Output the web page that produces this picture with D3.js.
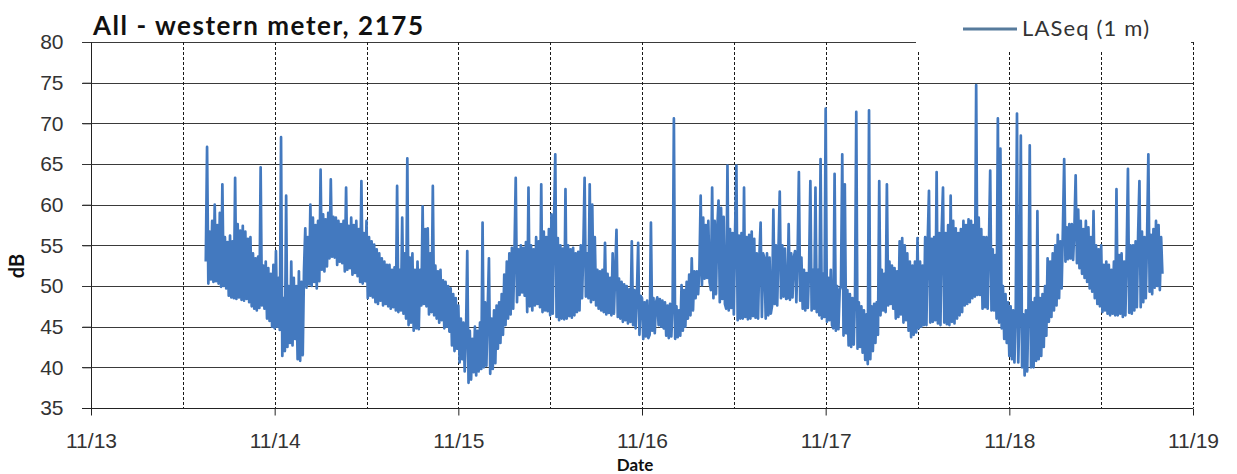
<!DOCTYPE html>
<html>
<head>
<meta charset="utf-8">
<script src="https://cdn.jsdelivr.net/npm/d3@7"></script>
<style>
  html, body { margin: 0; padding: 0; background: #fff; }
  svg { display: block; font-family: Lato, "Open Sans", sans-serif; }
</style>
</head>
<body>
<svg id="chart" width="1237" height="474"></svg>
<script>
// LASeq readings (dB), one every 10 minutes starting 11/13 15:00 (six per hour)
const readStart = new Date(2000, 10, 13, 15, 0);
const stepMinutes = 10;
const laseq = [
  53, 67.1, 50.3, 56.7, 50.8, 58,     50.5, 60, 50.6, 57.5, 50.3, 59,
  49.9, 62.5, 50, 56, 49.7, 55.4,     48.8, 56.2, 48.6, 55.5, 48.5, 63.3,
  48.4, 57.6, 48.6, 56.8, 48.3, 57.4, 48.2, 56.7, 48.4, 55.8, 48, 56,
  47.5, 54, 47.2, 53.4, 47, 53.6,     47.3, 64.6, 47.6, 52.5, 47.2, 53,
  46, 52.2, 45.7, 51.5, 45, 52.6,     44.8, 54.3, 45, 51, 44.6, 68.3,
  41.4, 48.5, 42, 61.1, 42.5, 50,     43, 53, 42.7, 51, 43.5, 50,
  41, 51.8, 40.8, 50.5, 41.5, 52,     57.1, 49.8, 56, 50.2, 60, 50,
  58.4, 50.5, 57.5, 49.7, 58, 50.6,   64.3, 52, 58.8, 51.8, 58.2, 52.4,
  59, 53.4, 63.1, 53.6, 58.5, 53.5,   58.4, 52.6, 58, 53, 57.6, 52.8,
  58, 51.8, 62.1, 52, 57.4, 52.2,     58.4, 51.4, 57.5, 51.6, 58, 51.2,
  57, 50.5, 62.9, 50.3, 56.5, 50.6,   58, 48.5, 56, 48.8, 55.5, 48.6,
  55.1, 48, 54.5, 47.8, 54, 48.2,     53.4, 47.6, 53, 47.8, 52.6, 47.5,
  52.6, 47.2, 52, 47.4, 52.3, 47,     62.3, 46.8, 52, 47, 58.4, 46.6,
  54, 46, 65.7, 45.2, 53.5, 45.5,     54, 44.5, 52, 44.8, 53, 44.7,
  52, 47.6, 59.8, 47.8, 57, 47.5,     57.1, 46.5, 54, 46.8, 62.3, 46.4,
  52.5, 46, 51.8, 45.5, 52, 45.8,     50.7, 44.8, 50.5, 45, 50, 44.4,
  49.7, 42.7, 49, 42, 48.5, 42.3,     47.6, 40.6, 46, 41, 45.5, 39.5,
  44, 54.3, 38.1, 44.5, 38.5, 43.5,   39.4, 45, 39, 44.5, 39.5, 45.5,
  39.8, 57.8, 40, 48, 40.2, 47,       53.4, 39.2, 46, 39.8, 47, 40.5,
  47.6, 42.3, 48, 43, 49, 44,         51.4, 45.2, 53, 46, 54, 46.5,
  54.7, 47.2, 54, 63.3, 48, 54.5,     48.9, 55, 49.2, 54.7, 48.8, 55.4,
  46.8, 62.1, 47.5, 55, 47, 54.5,     47.6, 56, 47.8, 55.5, 47.4, 62.5,
  46.8, 56.7, 47, 56, 46.9, 57,       46.4, 58.8, 46.6, 57.5, 66.2, 46.2,
  55.9, 45.8, 55, 46, 54.6, 45.9,     61.9, 46, 55, 46.3, 54.5, 46.1,
  54.7, 46.4, 54, 46.8, 54.2, 47,     55, 48.5, 54.6, 63.3, 48.7, 54,
  48.5, 62.5, 48, 60, 48.3, 56,       47.6, 52, 47.2, 51.8, 47, 52,
  46.8, 55.3, 46.5, 51.5, 46.7, 51,   46.4, 54, 46.6, 51.8, 56.9, 46.2,
  50.9, 46, 50.5, 45.6, 50.2, 45.8,   50, 45.4, 49.6, 45.6, 55.5, 45.2,
  49.5, 44.8, 49, 55.3, 44, 48.8,     48.5, 43.5, 48, 43.8, 48.2, 43.6,
  44, 57.8, 44.5, 48.5, 44.2, 48,     48.6, 45.2, 48.4, 45, 48.2, 44.8,
  48, 43.9, 47.6, 43.6, 47.8, 43.8,   47.5, 70.6, 43.5, 47.5, 43.7, 47,
  43.9, 50.1, 44.5, 49.5, 45, 50.5,   46, 51.4, 46.4, 53.4, 47, 51.8,
  48.5, 51.8, 49, 52, 61.1, 50.1,     58.4, 50.9, 57.5, 51, 58, 50.5,
  49.5, 62.1, 48.5, 58, 49, 57,       60.5, 48, 59.6, 48.4, 58.5, 47.8,
  47.2, 64.8, 47, 57, 47.3, 56.5,     46.5, 57, 64.8, 45.8, 56.2, 46,
  56.5, 46, 62.1, 46.2, 56, 45.9,     56.3, 46, 56.7, 46.3, 55.8, 46.1,
  54, 46, 53.6, 57.8, 46.2, 54,       53.4, 46, 54, 46.4, 53.5, 46.6,
  47.6, 59.4, 47.8, 55, 47.6, 54.5,   61.6, 48.5, 55, 48.7, 54.6, 48.4,
  48.5, 57.6, 48.3, 54, 48.6, 53.5,   54.3, 48, 53.8, 64, 48.2, 53.5,
  47.2, 52, 47, 51.6, 47.3, 52.2,     62.9, 47, 52, 47.2, 62.1, 46.8,
  52, 46.4, 65.6, 46, 51.5, 46.2,     71.8, 45.6, 51, 45.8, 52, 45.2,
  44.8, 63.8, 44.5, 50, 44.7, 49.5,   50, 66.2, 43.9, 62.5, 44.2, 49.5,
  42.7, 49, 42.5, 48.5, 42.8, 48.7,   71.4, 42.3, 48, 42.5, 47.5, 41.8,
  47, 40.9, 46.5, 40.4, 71.6, 41,     47.5, 42, 47.8, 43, 48, 44,
  62.9, 46.4, 52, 47, 51.5, 46.8,     62.5, 47.6, 53, 47.8, 52.5, 47.2,
  52.2, 46, 51.8, 46.2, 55.5, 46.5,   55.9, 45.5, 55, 45.8, 54, 44.5,
  53, 43.7, 52.5, 44, 53, 44.3,       55.9, 44.8, 53, 45, 52.5, 45.2,
  56, 45.2, 55.5, 61.7, 45.5, 55.8,   45.6, 56, 45.8, 64, 45.4, 56.5,
  45.2, 57, 62.1, 45.5, 56.5, 45.3,   57.5, 45.2, 61.1, 45.6, 58, 45.4,
  57.1, 46, 56.5, 46.4, 57, 46.8,     58, 47.6, 57.5, 47.8, 58.2, 48,
  58, 48.5, 57.5, 48.7, 74.7, 48.9,   58.4, 48.9, 57, 47.2, 56, 47.4,
  56, 47.2, 55, 64.2, 47, 54.5,       47, 53.8, 46, 70.6, 45.5, 66.9,
  44.8, 50, 43.5, 49, 43, 48,         41.4, 47.5, 41, 47, 40.6, 46.5,
  71.2, 40.6, 47, 68.5, 40, 46.5,     39, 47, 39.5, 47.5, 67.3, 40,
  48, 40, 48.5, 40.8, 59.2, 41,       48.5, 41.4, 49, 42.5, 50, 43.9,
  53.4, 45.6, 53, 46.2, 54, 47,       55, 47.6, 56.3, 48.5, 55.5, 49.7,
  57, 65.6, 53, 57.2, 53.3, 57.6,     53.4, 57.6, 53.2, 57, 63.6, 52.8,
  59.4, 52.2, 58, 51.5, 57, 51,       58, 50.5, 57.2, 49.7, 56, 49.3,
  59.2, 48.5, 55, 47.8, 54.5, 47.5,   55, 46.8, 52.6, 47, 53, 46.6,
  52.6, 46.4, 52, 46.6, 53, 46.4,     61.9, 46.4, 53.8, 46.6, 54, 46.2,
  53, 46.4, 54, 64.4, 46.7, 55,       46.6, 55, 47, 55.5, 47.4, 56.5,
  62.9, 47.4, 56.7, 48, 56, 48.5,     56, 66.2, 49.3, 56.3, 49, 57,
  49.8, 58, 50, 57.5, 49.5, 56,       51.5
];

const yTicks = [35, 40, 45, 50, 55, 60, 65, 70, 75, 80];
const dayTicks = [13, 14, 15, 16, 17, 18, 19].map(d => new Date(2000, 10, d));
const dayLabels = ["11/13", "11/14", "11/15", "11/16", "11/17", "11/18", "11/19"];
const halfDayLines = d3.range(1, 13).map(i => new Date(2000, 10, 13, 12 * i));

const titleText = "All - western meter, 2175";
const seriesName = "LASeq (1 m)";
const xTitle = "Date";
const yTitle = "dB";

const svg = d3.select("#chart");
const plotLeft = 91, plotRight = 1193, plotTop = 42, plotBottom = 408;

const x = d3.scaleTime().domain([dayTicks[0], dayTicks[dayTicks.length - 1]]).range([plotLeft, plotRight]);
const y = d3.scaleLinear().domain([35, 80]).range([plotBottom, plotTop]);

const series = laseq.map((v, i) => ({ t: new Date(readStart.getTime() + i * stepMinutes * 60000), v }));

// horizontal gridlines (with short outer ticks on the left)
svg.append("g").selectAll("line").data(yTicks.filter(d => d > 35)).join("line")
  .attr("x1", plotLeft - 9).attr("x2", plotRight)
  .attr("y1", d => Math.round(y(d)) + 0.5).attr("y2", d => Math.round(y(d)) + 0.5)
  .attr("stroke", "#3a3a3a").attr("stroke-width", 1);

// dashed vertical gridlines every 12 hours
svg.append("g").selectAll("line").data(halfDayLines).join("line")
  .attr("x1", d => Math.round(x(d)) + 0.5).attr("x2", d => Math.round(x(d)) + 0.5)
  .attr("y1", plotTop).attr("y2", plotBottom)
  .attr("stroke", "#1a1a1a").attr("stroke-width", 1).attr("stroke-dasharray", "3,2");

// measurement trace
svg.append("path").datum(series)
  .attr("fill", "none")
  .attr("stroke", "#4379bf")
  .attr("stroke-width", 2.7)
  .attr("stroke-linejoin", "round")
  .attr("d", d3.line().x(d => x(d.t)).y(d => y(d.v)));

// y axis
const yAxis = svg.append("g").attr("transform", `translate(${plotLeft + 0.5},0)`)
  .call(d3.axisLeft(y).tickValues(yTicks).tickSize(9).tickPadding(19).tickFormat(d3.format("d")));
yAxis.select(".domain").attr("stroke", "#222").attr("d", `M-9,${plotBottom + 0.5}H0V${plotTop}`);
yAxis.selectAll(".tick line").attr("stroke", "#333");
yAxis.selectAll("text").attr("font-size", 21).attr("fill", "#333");

// x axis
const xAxis = svg.append("g").attr("transform", `translate(0,${plotBottom + 0.5})`)
  .call(d3.axisBottom(x).tickValues(dayTicks).tickSize(7).tickPadding(18)
    .tickFormat((d, i) => dayLabels[i]));
xAxis.select(".domain").attr("stroke", "#222").attr("d", `M${plotLeft - 9},0H${plotRight}`);
xAxis.selectAll(".tick line").attr("stroke", "#222");
xAxis.selectAll("text").attr("font-size", 21).attr("fill", "#333");

// legend (white box sits over the top of the plot)
svg.append("rect").attr("x", 916).attr("y", 0).attr("width", 275).attr("height", 52).attr("fill", "#fff");
svg.append("line").attr("x1", 963).attr("x2", 1017).attr("y1", 29).attr("y2", 29)
  .attr("stroke", "#577b9c").attr("stroke-width", 3);
svg.append("text").attr("x", 1022).attr("y", 36).attr("font-size", 22).attr("fill", "#333")
  .attr("textLength", 127).attr("lengthAdjust", "spacing").text(seriesName);

// titles
svg.append("text").attr("x", 93).attr("y", 35).attr("font-size", 26).attr("font-weight", "bold")
  .attr("fill", "#111").attr("textLength", 330).attr("lengthAdjust", "spacing").text(titleText);
svg.append("text").attr("x", 635).attr("y", 471).attr("text-anchor", "middle")
  .attr("font-size", 17).attr("font-weight", "bold").attr("fill", "#111").text(xTitle);
svg.append("text").attr("transform", "translate(24,266) rotate(-90)").attr("text-anchor", "middle")
  .attr("font-size", 20).attr("font-weight", "bold").attr("fill", "#111").text(yTitle);
</script>
</body>
</html>
